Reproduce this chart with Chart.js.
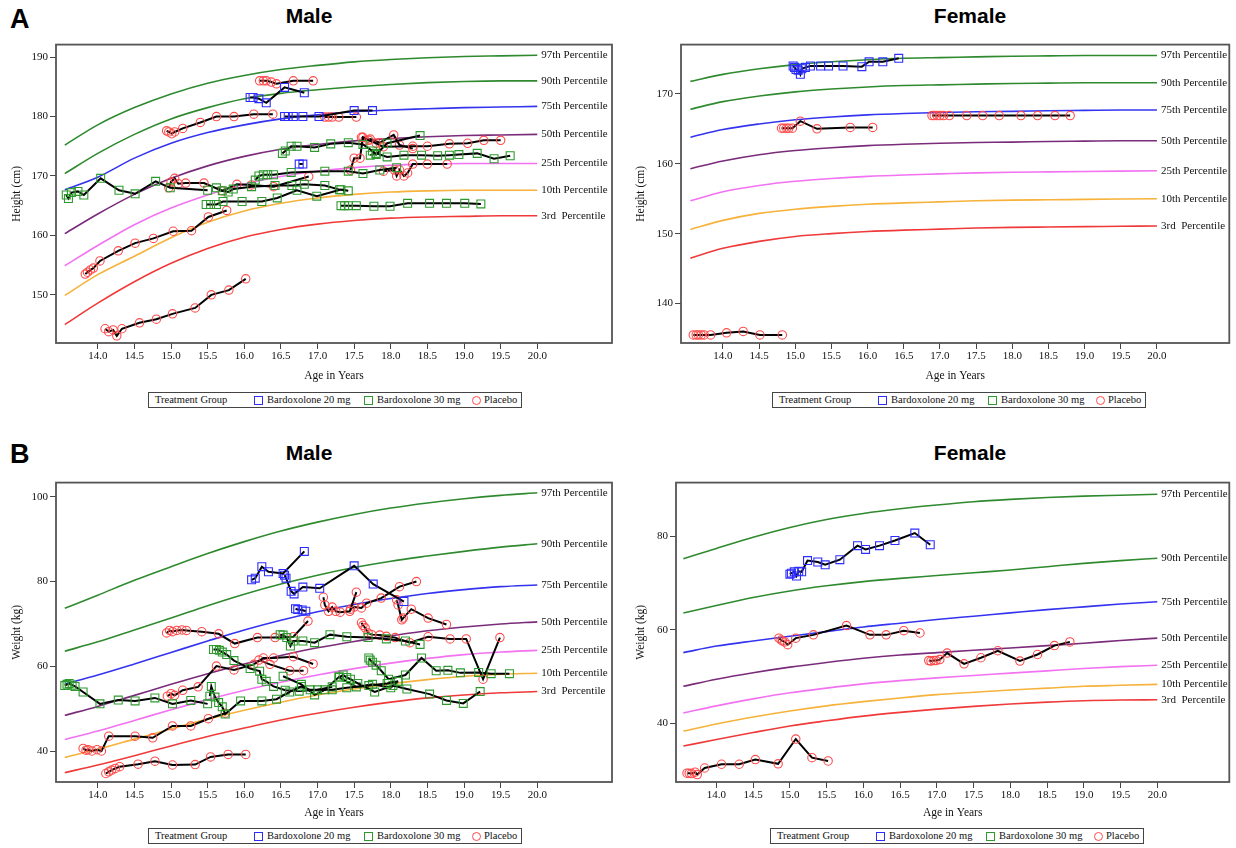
<!DOCTYPE html>
<html>
<head>
<meta charset="utf-8">
<script src="https://cdn.jsdelivr.net/npm/chart.js@4.4.0/dist/chart.umd.min.js"></script>
<style>
body{margin:0;width:1236px;height:848px;background:#fff;position:relative;overflow:hidden;font-family:'Liberation Serif','Times New Roman',serif}
canvas{position:absolute}
.tag{position:absolute;font:bold 27px 'Liberation Sans',Arial,sans-serif;line-height:1}
.ttl{position:absolute;font:bold 21px 'Liberation Sans',Arial,sans-serif;transform:translate(-50%,-50%);white-space:nowrap}
.leg{position:absolute;height:14px;width:372px;border:1.5px solid #444;font-size:10.5px;background:#fff;color:#111}
.leg span{position:absolute;top:0;white-space:nowrap;line-height:14px}
.leg i{position:absolute;top:3px;width:7px;height:7px;border:1px solid}
</style>
</head>
<body>
<div class="tag" style="left:10px;top:6px">A</div>
<div class="tag" style="left:10px;top:441px">B</div>
<div class="ttl" style="left:309px;top:16px">Male</div>
<div class="ttl" style="left:970px;top:16px">Female</div>
<div class="ttl" style="left:309px;top:453px">Male</div>
<div class="ttl" style="left:970px;top:453px">Female</div>

<canvas id="aMale" width="620" height="351" style="left:0;top:36px"></canvas>
<canvas id="aFemale" width="612" height="351" style="left:624px;top:36px"></canvas>
<canvas id="bMale" width="620" height="350" style="left:0;top:474px"></canvas>
<canvas id="bFemale" width="612" height="350" style="left:624px;top:474px"></canvas>

<div class="leg" style="left:148px;top:392px"></div>
<div class="leg" style="left:772px;top:392px"></div>
<div class="leg" style="left:148px;top:828px"></div>
<div class="leg" style="left:770px;top:828px"></div>

<script>
// percentile curves
const pctNames = ['97th Percentile','90th Percentile','75th Percentile','50th Percentile','25th Percentile','10th Percentile','3rd  Percentile'];
const pctColors = ['#2f8a2f','#2f8a2f','#3434f0','#7a2c7a','#f272f2','#f6b23a','#f03a3a'];
const pctAges = [13.55,14,14.5,15,15.5,16,16.5,17,17.5,18,18.5,19,19.5,20];

const maleHeightPct = [
  [175.2,178.6,181.5,183.8,185.6,186.9,187.9,188.6,189.2,189.6,189.9,190.1,190.2,190.3],
  [170.4,173.8,177.0,179.6,181.5,183.0,183.9,184.5,185.0,185.4,185.7,185.9,186.0,186.0],
  [167.7,169.8,173.0,175.5,177.3,178.6,179.6,180.3,180.8,181.1,181.3,181.5,181.6,181.7],
  [160.3,163.6,166.9,169.6,171.7,173.3,174.5,175.3,175.9,176.3,176.6,176.8,176.9,177.0],
  [154.9,158.3,161.8,164.6,166.8,168.6,169.9,170.8,171.4,171.8,172.0,172.1,172.1,172.1],
  [149.9,153.4,156.5,159.6,162.2,164.1,165.4,166.3,166.9,167.3,167.5,167.6,167.6,167.6],
  [145.0,148.6,152.2,155.3,157.8,159.7,161.0,161.9,162.5,162.9,163.1,163.2,163.3,163.3]
];
const femaleHeightPct = [
  [171.8,172.8,173.6,174.2,174.6,174.9,175.1,175.2,175.3,175.4,175.45,175.5,175.5,175.5],
  [167.8,168.9,169.7,170.3,170.7,171.0,171.2,171.3,171.4,171.5,171.55,171.6,171.6,171.6],
  [163.8,164.9,165.7,166.3,166.7,167.0,167.2,167.35,167.45,167.5,167.6,167.65,167.7,167.7],
  [159.3,160.4,161.3,161.9,162.3,162.6,162.8,162.95,163.05,163.1,163.2,163.25,163.3,163.3],
  [154.7,156.0,156.9,157.5,157.9,158.2,158.4,158.55,158.7,158.8,158.85,158.9,158.95,159.0],
  [150.6,151.9,152.9,153.5,153.9,154.2,154.4,154.55,154.7,154.8,154.85,154.9,154.95,155.0],
  [146.5,147.9,148.9,149.6,150.0,150.3,150.5,150.65,150.8,150.9,150.95,151.0,151.05,151.1]
];
const maleWeightPct = [
  [73.7,76.8,80.3,83.5,86.6,89.4,91.9,94.0,95.8,97.3,98.5,99.5,100.3,100.9],
  [63.6,65.8,68.6,71.4,74.3,77.0,79.4,81.5,83.3,84.8,86.0,87.1,88.1,88.9],
  [55.9,58.0,60.6,63.3,66.0,68.6,70.9,72.9,74.6,76.0,77.2,78.1,78.8,79.2],
  [48.5,50.6,53.2,55.8,58.3,60.6,62.6,64.4,65.9,67.2,68.4,69.3,70.0,70.5],
  [42.8,44.8,47.3,49.8,52.2,54.4,56.3,58.0,59.5,60.8,61.9,62.8,63.4,63.8],
  [38.6,40.5,42.9,45.3,47.6,49.7,51.6,53.3,54.7,55.9,56.9,57.7,58.2,58.4],
  [35.0,36.8,39.0,41.3,43.5,45.5,47.4,49.0,50.4,51.6,52.6,53.3,53.8,54.1]
];
const femaleWeightPct = [
  [75.2,77.4,79.8,81.9,83.6,84.9,85.9,86.7,87.4,87.9,88.3,88.6,88.8,89.0],
  [63.6,65.2,66.9,68.3,69.4,70.3,71.0,71.6,72.2,72.8,73.5,74.2,74.8,75.3],
  [55.1,56.5,57.6,58.6,59.6,60.6,61.4,62.2,62.9,63.6,64.3,64.9,65.5,66.0],
  [47.9,49.4,50.8,52.0,53.0,53.9,54.6,55.1,55.6,56.1,56.6,57.1,57.7,58.2],
  [42.2,43.7,45.2,46.5,47.5,48.4,49.1,49.7,50.2,50.7,51.2,51.7,52.1,52.4],
  [38.3,39.8,41.3,42.6,43.7,44.6,45.4,46.1,46.6,47.1,47.5,47.9,48.1,48.3],
  [35.1,36.5,38.0,39.4,40.5,41.5,42.3,43.0,43.6,44.1,44.5,44.8,44.95,45.0]
];

// patients: [age, value]
const maleHeightB20 = [
  [[16.08,183.2],[16.12,183.2],[16.2,183.0],[16.3,182.3],[16.55,184.9],[16.82,184.0]],
  [[16.55,180],[16.6,180],[16.67,180],[16.8,180],[17.02,180],[17.5,181],[17.75,181]],
  [[16.75,172],[16.8,172]]
];
const maleHeightB30 = [
  [[13.57,166.8],[13.6,166.2],[13.64,167.2],[13.73,167.4],[13.81,166.8],[14.04,169.6],[14.29,167.6],[14.51,167.0],[14.79,169.1],[14.99,168.0],[15.5,167.6]],
  [[15.48,165.2],[15.54,165.2],[15.62,165.2],[15.71,165.7],[15.97,165.7],[16.24,165.7],[16.45,166.3],[16.72,167.6],[16.99,166.6],[17.32,167.7],[17.42,167.5]],
  [[17.32,165],[17.37,165],[17.42,165],[17.53,165],[17.77,164.9],[17.99,164.9],[18.23,165.4],[18.53,165.4],[18.76,165.4],[19.01,165.4],[19.23,165.3]],
  [[15.62,168],[15.7,167.5],[15.78,167.3],[15.85,167.8],[16.1,168.2],[16.42,168.4],[16.65,168.4],[16.82,168.6],[17.1,168.4],[17.3,167.7]],
  [[16.15,169.3],[16.2,170],[16.26,170.2],[16.32,170.2],[16.4,170.2],[16.64,170.6],[17.1,170.8],[17.42,170.8],[17.62,170.4],[17.85,171],[18.08,171.4]],
  [[16.52,173.8],[16.56,174.2],[16.64,175],[16.72,175],[16.96,174.8],[17.18,175.4],[17.42,175.6],[17.62,175.3],[17.75,174.2],[17.8,173.6],[17.95,175.5],[18.4,176.8]],
  [[17.72,173.5],[17.8,173.8],[17.95,173.2],[18.18,173.5],[18.42,173.5],[18.64,173.4],[18.8,173.5],[18.93,173.6],[19.18,173.8],[19.41,172.9],[19.63,173.4]]
];
const maleHeightPbo = [
  [[14.1,144.3],[14.15,143.8],[14.21,144.1],[14.26,143.1],[14.33,144.3],[14.57,145.3],[14.8,145.9],[15.02,146.8],[15.33,147.8],[15.55,150],[15.79,150.8],[16.02,152.7]],
  [[13.83,153.5],[13.86,153.8],[13.9,154.2],[13.94,154.5],[14.03,155.7],[14.28,157.4],[14.51,158.7],[14.76,159.5],[15.03,160.7],[15.28,160.8],[15.51,163.1],[15.76,164.2]],
  [[16.21,186],[16.26,186],[16.3,186],[16.37,185.8],[16.44,185.5],[16.67,186],[16.94,186]],
  [[14.94,177.6],[14.97,177.4],[15.01,177.1],[15.05,177.4],[15.16,178],[15.4,179],[15.62,180],[15.86,180],[16.13,180.4],[16.39,180.4]],
  [[17.1,179.9],[17.15,179.9],[17.2,179.9],[17.29,179.9],[17.53,179.9]],
  [[14.97,168],[15.0,169],[15.05,169.6],[15.1,168.7],[15.2,168.8],[15.45,168.8],[15.7,167.5],[15.9,168.6],[16.1,168.5],[16.4,168.2],[16.88,169.9]],
  [[17.45,171],[17.5,173],[17.58,173],[17.62,176.5],[17.7,176],[17.8,175.5],[17.9,174.9],[18.3,175],[18.5,175],[18.8,175.4],[19.05,175.5],[19.27,176],[19.5,176]],
  [[17.9,170.8],[18.05,171],[18.08,170],[18.12,171],[18.18,170],[18.23,170.5],[18.3,172],[18.5,172],[18.77,172]],
  [[17.6,176.5],[17.65,176],[17.72,176.2],[17.85,175.6],[18.04,176.9],[18.12,175.2],[18.3,174.6]]
];

const femaleHeightB20 = [
  [[14.97,174],[14.99,173.8],[15.01,173.5],[15.04,173.4],[15.07,172.8],[15.09,173.6],[15.14,173.8],[15.21,174],[15.35,174],[15.46,174],[15.66,174],[15.92,173.9],[16.02,174.6],[16.21,174.6],[16.43,175.1]]
];
const femaleHeightB30 = [];
const femaleHeightPbo = [
  [[14.81,165.1],[14.84,165.1],[14.88,165.1],[14.91,165.1],[14.96,165.1],[15.07,166.1],[15.3,165],[15.76,165.2],[16.07,165.2]],
  [[13.59,135.5],[13.63,135.5],[13.66,135.5],[13.7,135.5],[13.74,135.5],[13.83,135.5],[14.05,135.8],[14.28,136],[14.51,135.5],[14.82,135.5]],
  [[16.89,166.9],[16.92,166.9],[16.96,166.9],[17.0,166.9],[17.05,166.9],[17.13,166.9],[17.37,166.9],[17.59,166.9],[17.82,166.9],[18.12,166.9],[18.35,166.9],[18.59,166.9],[18.8,166.9]]
];

const maleWeightB20 = [
  [[16.1,80.4],[16.15,80.8],[16.24,83.5],[16.33,82.3],[16.53,81.9],[16.82,87.1]],
  [[16.55,81.5],[16.57,80.8],[16.64,77.7],[16.68,77.1],[16.8,78.7],[17.03,78.4],[17.5,83.7],[17.76,79.4],[18.18,75.3]],
  [[16.7,73.6],[16.73,73.4],[16.79,73.3],[16.84,73.0]]
];
const maleWeightB30 = [
  [[13.55,55.5],[13.58,55.8],[13.61,56],[13.65,55.6],[13.69,55.3],[13.8,54],[14.03,51.2],[14.28,52.1],[14.51,51.9],[14.78,52.6],[15.02,51.2],[15.27,52],[15.5,51.2]],
  [[15.53,53],[15.55,55.3],[15.6,52.8],[15.65,51.5],[15.7,50.5],[15.74,48.8],[15.95,51.9],[16.24,51.9],[16.44,52.3],[16.62,54],[16.78,55.3],[16.9,54.5],[17.2,54.5],[17.4,55],[17.7,55.5],[17.95,56],[18.1,56.5]],
  [[15.58,64],[15.62,64],[15.66,63.8],[15.7,63.4],[15.76,62.8],[15.86,61.4],[16.08,59.5],[16.21,58.9],[16.24,57],[16.3,56.5],[16.4,55.3],[16.56,54.4],[16.75,54.2],[17.0,54.5],[17.2,55.2]],
  [[16.49,67.5],[16.53,67.4],[16.58,66.8],[16.63,64.8],[16.67,66],[16.8,66],[16.96,65.6],[17.17,67.5],[17.4,67],[17.69,66.8],[17.94,66.5],[18.2,66],[18.4,65.2]],
  [[17.7,62],[17.72,61.5],[17.75,61],[17.8,60.3],[17.87,59],[17.97,57],[18.2,58],[18.42,62],[18.62,59],[18.78,59.1],[18.95,58.5],[19.2,58.6],[19.37,58.3],[19.62,58.3]],
  [[17.3,57.5],[17.35,58],[17.4,57.4],[17.45,57],[17.55,56],[17.78,54],[18.03,55.5],[18.22,54.7],[18.53,53.5],[18.76,52],[18.99,51.3],[19.22,54.1]],
  [[16.53,57.7],[16.78,55.8],[16.96,53.3],[17.1,54.5],[17.29,57.5],[17.53,55.2],[17.75,55.8],[18.0,55],[18.1,56.5]]
];
const maleWeightPbo = [
  [[14.11,34.8],[14.15,35.2],[14.19,35.6],[14.24,36],[14.3,36.4],[14.55,37],[14.78,37.7],[15.02,36.8],[15.33,36.9],[15.54,38.7],[15.78,39.3],[16.02,39.3]],
  [[13.8,40.7],[13.84,40.3],[13.87,40.4],[13.92,40.1],[13.99,40.4],[14.05,40.1],[14.15,43.6],[14.51,43.6],[14.75,43.2],[15.02,46],[15.27,46],[15.51,47.7],[15.74,49]],
  [[14.95,53],[15.0,53.6],[15.05,53.2],[15.16,54.4],[15.37,55.2],[15.62,60.1],[15.86,59.2],[16.13,60.5],[16.26,62],[16.4,62],[16.67,62.3],[16.94,60.6]],
  [[14.94,67.9],[14.98,68.5],[15.02,68.2],[15.08,68.5],[15.15,68.6],[15.21,68.5],[15.42,68.2],[15.65,67.7],[15.87,65.4],[16.18,66.8],[16.42,66.8],[16.67,67],[16.87,70.7]],
  [[17.6,70.3],[17.62,69.7],[17.65,69.1],[17.69,67.9],[17.74,67.5],[17.85,67.4],[17.94,67.1],[18.06,66.8],[18.26,65.6],[18.51,67],[18.81,66.5],[19.03,66.5],[19.26,57],[19.49,66.8]],
  [[17.08,76.3],[17.1,74.5],[17.15,73],[17.2,74],[17.25,73],[17.31,72.8],[17.44,73],[17.53,77.5]],
  [[17.45,73.5],[17.5,74],[17.6,73.8],[17.67,74.9],[17.87,76.1],[18.12,78.8],[18.35,80]],
  [[18.08,75.7],[18.1,74.5],[18.15,71],[18.17,71.4],[18.28,73.5],[18.51,71.4],[18.76,69.9]],
  [[16.2,61.5],[16.35,60.5],[16.62,59],[16.81,59]]
];

const femaleWeightB20 = [
  [[15.0,71.9],[15.02,72.1],[15.06,72.4],[15.09,71.5],[15.12,72.5],[15.16,72.4],[15.24,74.8],[15.38,74.5],[15.48,73.9],[15.68,75],[15.92,78],[16.03,77.2],[16.22,78],[16.43,79.1],[16.7,80.7],[16.91,78.2]]
];
const femaleWeightB30 = [];
const femaleWeightPbo = [
  [[14.85,58.2],[14.88,57.8],[14.9,57.6],[14.93,57.4],[14.97,56.8],[15.08,58.2],[15.32,58.9],[15.77,60.9],[16.09,58.9],[16.31,58.9],[16.55,59.8],[16.77,59.3]],
  [[13.6,29.3],[13.63,29.3],[13.66,29.2],[13.71,29.5],[13.74,29],[13.84,30.4],[14.07,31.2],[14.31,31.2],[14.53,32.2],[14.84,31.3],[15.08,36.6],[15.3,32.6],[15.52,31.9]],
  [[16.89,53.4],[16.92,53.3],[16.96,53.4],[16.99,53.4],[17.04,53.6],[17.14,55],[17.37,52.7],[17.6,54],[17.83,55.5],[18.13,53.3],[18.37,54.7],[18.6,56.6],[18.81,57.4]]
];

const ageTicks = [14,14.5,15,15.5,16,16.5,17,17.5,18,18.5,19,19.5,20];
const maleHeightTicks = [150,160,170,180,190];
const femaleHeightTicks = [140,150,160,170];
const maleWeightTicks = [40,60,80,100];
const femaleWeightTicks = [40,60,80];

const groupNames = ['Bardoxolone 20 mg','Bardoxolone 30 mg','Placebo'];
const groupColors = ['#2c2cff','#2e9a2e','#ff4a4a'];

const serif = "'Liberation Serif','Times New Roman',serif";

const framePlugin = {
  id: 'frame',
  afterDatasetsDraw(chart) {
    const ctx = chart.ctx, a = chart.chartArea;
    ctx.save();
    // percentile names at the end of each curve
    ctx.font = '11px ' + serif;
    ctx.fillStyle = '#111';
    ctx.textBaseline = 'middle';
    chart.data.datasets.forEach((ds, i) => {
      if (!ds.pctLabel) return;
      const pts = chart.getDatasetMeta(i).data;
      const last = pts[pts.length - 1];
      ctx.fillText(ds.pctLabel, last.x + 4, last.y);
    });
    ctx.strokeStyle = '#555';
    ctx.lineWidth = 1.8;
    ctx.strokeRect(a.left, a.top, a.right - a.left, a.bottom - a.top);
    ctx.restore();
  }
};

function toXY(pts) {
  return pts.map(p => ({x: p[0], y: p[1]}));
}

function makePanel(id, o) {
  const datasets = [];
  o.pct.forEach((vals, i) => {
    datasets.push({
      data: pctAges.map((a, j) => ({x: a, y: vals[j]})),
      borderColor: pctColors[i],
      borderWidth: 1.6,
      pointRadius: 0,
      cubicInterpolationMode: 'monotone',
      pctLabel: pctNames[i],
      order: 2
    });
  });
  [o.b20, o.b30, o.pbo].forEach((group, g) => {
    group.forEach(p => {
      datasets.push({
        data: toXY(p),
        borderColor: '#000',
        borderWidth: 2,
        pointStyle: g === 2 ? 'circle' : 'rect',
        pointRadius: g === 2 ? 4.2 : 5.6,
        pointBorderColor: groupColors[g],
        pointBackgroundColor: 'rgba(0,0,0,0)',
        pointBorderWidth: 1.1,
        order: 1
      });
    });
  });

  new Chart(document.getElementById(id), {
    type: 'line',
    data: {datasets: datasets},
    options: {
      responsive: false,
      animation: false,
      events: [],
      layout: {padding: {top: 6, right: o.padRight, left: 0, bottom: 0}},
      plugins: {legend: {display: false}, tooltip: {enabled: false}},
      scales: {
        x: {
          type: 'linear', min: o.xMin, max: o.xMax,
          afterBuildTicks: s => { s.ticks = ageTicks.map(v => ({value: v})); },
          afterFit: s => { s.height = o.xAxisH; },
          ticks: {autoSkip: false, maxRotation: 0, padding: 1, color: '#111',
                  font: {family: serif, size: 11}, callback: v => v.toFixed(1)},
          grid: {drawOnChartArea: false, drawTicks: true, tickLength: 6, color: '#444'},
          border: {display: false},
          title: {display: true, text: 'Age in Years', color: '#111', font: {family: serif, size: 11.5}}
        },
        y: {
          min: o.yMin, max: o.yMax,
          afterBuildTicks: s => { s.ticks = o.yTicks.map(v => ({value: v})); },
          afterFit: s => { s.width = o.yAxisW; },
          ticks: {padding: 2, color: '#111', font: {family: serif, size: 11}},
          grid: {drawOnChartArea: false, drawTicks: true, tickLength: 6, color: '#444'},
          border: {display: false},
          title: {display: true, text: o.yTitle, color: '#111', padding: {top: 10, bottom: 4},
                  font: {family: serif, size: 11.5}}
        }
      }
    },
    plugins: [framePlugin]
  });
}

makePanel('aMale', {pct: maleHeightPct, b20: maleHeightB20, b30: maleHeightB30, pbo: maleHeightPbo,
  xMin: 13.43, xMax: 21.02, yMin: 141.9, yMax: 192.1, yTicks: maleHeightTicks, yTitle: 'Height (cm)',
  yAxisW: 56, padRight: 8, xAxisH: 44});
makePanel('aFemale', {pct: femaleHeightPct, b20: femaleHeightB20, b30: femaleHeightB30, pbo: femaleHeightPbo,
  xMin: 13.42, xMax: 21.0, yMin: 134.35, yMax: 177.06, yTicks: femaleHeightTicks, yTitle: 'Height (cm)',
  yAxisW: 57, padRight: 1, xAxisH: 44});
makePanel('bMale', {pct: maleWeightPct, b20: maleWeightB20, b30: maleWeightB30, pbo: maleWeightPbo,
  xMin: 13.43, xMax: 21.02, yMin: 32.8, yMax: 103.3, yTicks: maleWeightTicks, yTitle: 'Weight (kg)',
  yAxisW: 56, padRight: 8, xAxisH: 42});
makePanel('bFemale', {pct: femaleWeightPct, b20: femaleWeightB20, b30: femaleWeightB30, pbo: femaleWeightPbo,
  xMin: 13.45, xMax: 20.98, yMin: 27.4, yMax: 91.5, yTicks: femaleWeightTicks, yTitle: 'Weight (kg)',
  yAxisW: 52, padRight: 1, xAxisH: 42});

// legend boxes
document.querySelectorAll('.leg').forEach(box => {
  let html = '<span style="left:6px">Treatment Group</span>';
  const mx = [105, 215, 323], tx = [118, 228, 335];
  groupNames.forEach((n, g) => {
    const round = g === 2 ? 'border-radius:50%;' : '';
    html += '<i style="left:' + mx[g] + 'px;border-color:' + groupColors[g] + ';' + round + '"></i>';
    html += '<span style="left:' + tx[g] + 'px">' + n + '</span>';
  });
  box.innerHTML = html;
});
</script>
</body>
</html>
